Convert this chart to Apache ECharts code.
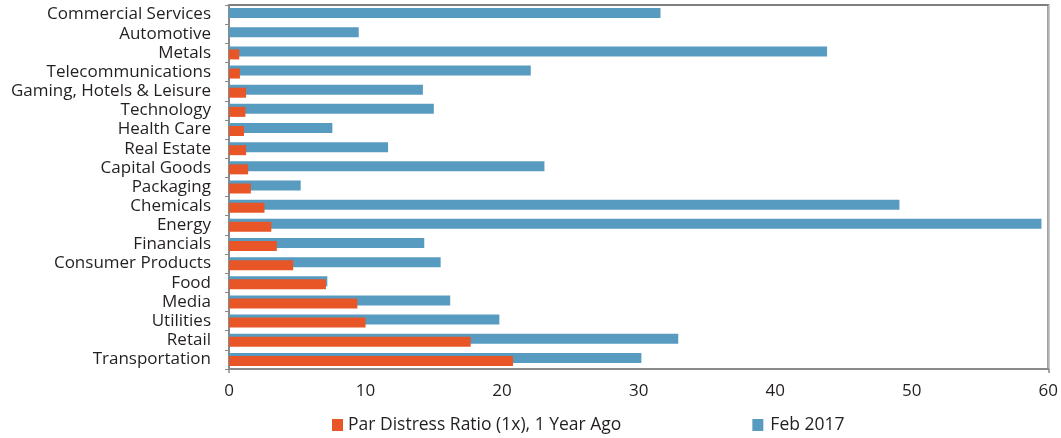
<!DOCTYPE html>
<html>
<head>
<meta charset="utf-8">
<script src="https://cdn.jsdelivr.net/npm/echarts@6/dist/echarts.min.js"></script>
<style>html,body{margin:0;padding:0;background:#fff;}#c{width:1061px;height:438px;}</style>
</head>
<body>
<div id="c"></div>
<script>
const categories = ['Transportation','Retail','Utilities','Media','Food','Consumer Products','Financials','Energy','Chemicals','Packaging','Capital Goods','Real Estate','Health Care','Technology','Gaming, Hotels & Leisure','Telecommunications','Metals','Automotive','Commercial Services'];
const yearAgo = [20.8,17.7,10.0,9.4,7.1,4.7,3.5,3.1,2.6,1.6,1.4,1.25,1.1,1.2,1.25,0.8,0.75,0,0];
const feb2017 = [30.2,32.9,19.8,16.2,7.2,15.5,14.3,59.5,49.1,5.25,23.1,11.65,7.57,15.0,14.2,22.1,43.8,9.5,31.6];
const xTicks = [0,10,20,30,40,50,60];
const seriesNames = ['Par Distress Ratio (1x), 1 Year Ago','Feb 2017'];

const FONT = 'Open Sans';
const chart = echarts.init(document.getElementById('c'), null, {renderer:'canvas'});
chart.setOption({
  animation:false,
  textStyle:{fontFamily:FONT},
  grid:{left:229,right:7,top:5,bottom:69,show:true,borderColor:'#7f7f7f',borderWidth:2,containLabel:false},
  legend:{
    data:[
      {name:seriesNames[0]},
      {name:seriesNames[1],textStyle:{padding:[0,0,0,2]}}
    ],
    left:332, top:416, padding:0, itemGap:131, itemWidth:11, itemHeight:12,
    icon:'rect',
    textStyle:{fontFamily:FONT,fontSize:17.5,color:'#231f20'}
  },
  xAxis:{
    type:'value', min:xTicks[0], max:xTicks[xTicks.length-1], interval:10,
    axisLine:{show:true,lineStyle:{color:'#8a8a8a',width:2}},
    axisTick:{show:true,length:4,customValues:[xTicks[0],xTicks[xTicks.length-1]],lineStyle:{color:'#8a8a8a',width:1.5}},
    axisLabel:{fontFamily:FONT,fontSize:17,color:'#231f20',margin:14},
    splitLine:{show:true,lineStyle:{color:'#c4c4c4',width:1.5}}
  },
  yAxis:{
    type:'category', data:categories,
    axisLine:{show:true,lineStyle:{color:'#8a8a8a',width:2}},
    axisTick:{show:true,length:4,lineStyle:{color:'#8a8a8a',width:1}},
    axisLabel:{fontFamily:FONT,fontSize:17,color:'#231f20',margin:18,interval:0},
    splitLine:{show:false}
  },
  series:[
    {name:seriesNames[1],type:'bar',data:feb2017,barWidth:10,barGap:'-70%',itemStyle:{color:'#579bc0'},z:2},
    {name:seriesNames[0],type:'bar',data:yearAgo,barWidth:10,barGap:'-70%',itemStyle:{color:'#e85526'},z:3}
  ]
});
</script>
</body>
</html>
